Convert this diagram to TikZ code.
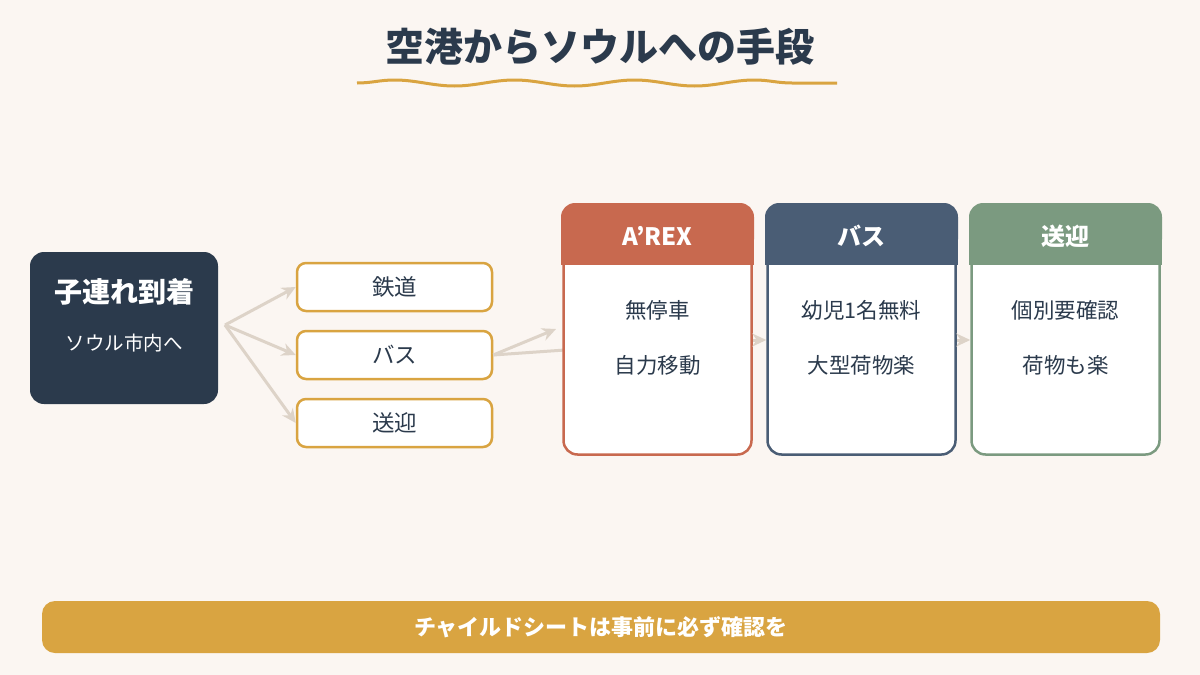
\documentclass[tikz,border=0pt]{standalone}
\usepackage{fontspec}
\setmainfont{Noto Sans CJK JP}
\usetikzlibrary{decorations.pathmorphing,arrows.meta}
\definecolor{bg}{HTML}{FBF6F2}
\definecolor{navy}{HTML}{2B3A4C}
\definecolor{gold}{HTML}{D9A441}
\definecolor{rust}{HTML}{C8694F}
\definecolor{slate}{HTML}{4A5D75}
\definecolor{sage}{HTML}{7B9A80}
\definecolor{arr}{HTML}{DDD3C8}
\begin{document}
\begin{tikzpicture}[x=1pt,y=-1pt,
  opt/.style={draw=gold,line width=2.5pt,fill=white,rounded corners=9pt,minimum width=195pt,minimum height=48pt,text=navy,font=\fontsize{22.5}{26}\selectfont},
  ar/.style={draw=arr,line width=3pt,-{Stealth[length=14pt,width=13pt]}},
  body/.style={text=navy,font=\fontsize{21.5}{26}\selectfont}]
\fill[bg] (0,0) rectangle (1200,675);
\useasboundingbox (0,0) rectangle (1200,675);
\node[text=navy,font=\bfseries\fontsize{39}{44}\selectfont] (title) at (600,47) {空港からソウルへの手段};
\draw[gold,line width=3pt,decorate,decoration={snake,amplitude=3pt,segment length=120pt}] (357,83) -- (837,83);
% left
\node[fill=navy,rounded corners=14pt,minimum width=188pt,minimum height=152pt] (start) at (124,328) {};
\node[text=white,font=\bfseries\fontsize{28}{32}\selectfont] (st1) at (124,292) {子連れ到着};
\node[text=white,font=\fontsize{19.5}{23}\selectfont] (st2) at (124,343) {ソウル市内へ};
\coordinate (fork) at (225,325);
\node[opt] (o1) at (394.5,287) {鉄道};
\node[opt] (o2) at (394.5,355) {バス};
\node[opt] (o3) at (394.5,423) {送迎};
\draw[ar] (fork) -- (o1.west);
\draw[ar] (fork) -- (o2.west);
\draw[ar] (fork) -- (o3.west);
\coordinate (c1a) at (556,329);
\coordinate (c1b) at (565,350);
\draw[ar] (o2.east) -- (c1a);
\draw[draw=arr,line width=3pt] (o2.east) -- (c1b);
% cards
\foreach \n/\x/\c/\h/\a/\b in {ca/657.5/rust/A\char"0027 REX/無停車/自力移動, cb/861.5/slate/バス/幼児1名無料/大型荷物楽, cc/1065.5/sage/送迎/個別要確認/荷物も楽}{
  \node[draw=\c,line width=2.5pt,fill=white,rounded corners=14pt,minimum width=188pt,minimum height=249pt] (\n) at (\x,330) {};
  \fill[\c,rounded corners=14pt] ([shift={(-1.25pt,1.25pt)}]\n.north west) rectangle ([shift={(1.25pt,-1.25pt)}]\n.north east |- 0,252);
  \fill[\c] ([shift={(-1.25pt,0)}]\n.west |- 0,240) rectangle ([shift={(1.25pt,0)}]\n.east |- 0,265);
  \node[text=white,font=\bfseries\fontsize{24}{28}\selectfont] (\n h) at (\x,236) {\h};
  \node[body] (\n 1) at (\x,310) {\a};
  \node[body] (\n 2) at (\x,365) {\b};
}
\draw[ar] (ca.east |- 0,340) -- (cb.west |- 0,340);
\draw[ar] (cb.east |- 0,340) -- (cc.west |- 0,340);
% bottom
\node[fill=gold,rounded corners=13pt,minimum width=1118pt,minimum height=52pt,text=white,font=\bfseries\fontsize{22}{26}\selectfont] (bar) at (601,627) {チャイルドシートは事前に必ず確認を};
\end{tikzpicture}
\end{document}
